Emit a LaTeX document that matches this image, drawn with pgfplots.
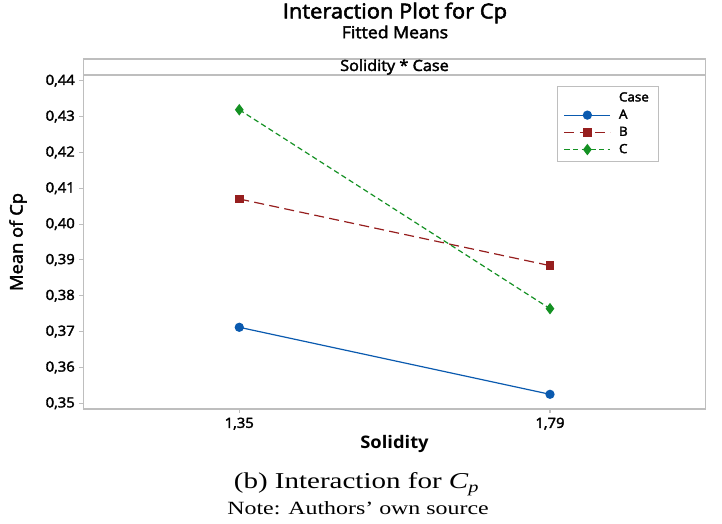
\documentclass[border=0pt]{standalone}
\usepackage{pgfplots}
\pgfplotsset{compat=1.18}
\usepackage{fontspec}
\setmainfont{Open Sans}[FakeStretch=1.06]
\newfontfamily\semib{Open Sans}[FakeStretch=1.06, FakeBold=2.5]
\newfontfamily\capfont{Liberation Serif}[FakeStretch=1.28]
\definecolor{cA}{RGB}{10,90,175}
\definecolor{cB}{RGB}{150,30,30}
\definecolor{cC}{RGB}{20,145,35}
\definecolor{axgray}{RGB}{190,190,190}
\begin{document}
\begin{tikzpicture}
\useasboundingbox (-62.625pt,-86.25pt) rectangle (478.875pt,306.75pt);
\begin{axis}[name=ax, at={(0,0)}, anchor=south west,
  width=466.5pt, height=250.5pt, scale only axis,
  xmin=1.1294, xmax=2.0102, ymin=0.3484, ymax=0.4416,
  xtick={1.35,1.79},
  ytick={0.35,0.36,0.37,0.38,0.39,0.40,0.41,0.42,0.43,0.44},
  axis line style={axgray, line width=1.1pt},
  tick style={axgray, line width=0.8pt},
  tick align=outside, major tick length=3pt,
  xtick pos=bottom, ytick pos=left,
  tick label style={font=\semib\fontsize{10.5}{12}\selectfont, text=black},
  /pgf/number format/.cd, fixed, fixed zerofill, precision=2, use comma, assume math mode=true,
  /pgfplots/.cd,
  xlabel={Solidity}, ylabel={Mean of Cp},
  xlabel style={at={(axis description cs:0.5,-0.105)}, anchor=center, font=\bfseries\fontsize{13}{15}\selectfont},
  ylabel style={at={(axis description cs:-0.1053,0.5)}, anchor=center, font=\semib\fontsize{13}{15}\selectfont},
  legend style={at={(0.761,0.967)}, anchor=north west, draw=axgray, font=\semib\fontsize{9.5}{11}\selectfont,
    inner xsep=5pt, inner ysep=2.5pt, row sep=0.6pt,
    /tikz/every odd column/.append style={column sep=4pt}},
  legend cell align=left,
  legend image code/.code={\draw[mark repeat=2,mark phase=2,#1] plot coordinates {(0pt,0pt) (17.25pt,0pt) (34.5pt,0pt)};},
]
\addlegendimage{empty legend}
\addlegendentry{Case}
\addplot[cA, line width=0.9pt, mark=*, mark size=3pt] coordinates {(1.35,0.3712) (1.79,0.3525)};
\addlegendentry{A}
\addplot[cB, line width=0.9pt, dash pattern=on 7.5pt off 4pt, mark=square*, mark size=2.75pt, mark options={solid}] coordinates {(1.35,0.4070) (1.79,0.3884)};
\addlegendentry{B}
\addplot[cC, line width=0.9pt, dash pattern=on 4pt off 2.5pt, mark=diamond*, mark size=3.6pt, mark options={solid}] coordinates {(1.35,0.4319) (1.79,0.3764)};
\addlegendentry{C}
\end{axis}
\draw[axgray, line width=1.1pt] (ax.north west) rectangle ([yshift=12pt]ax.north east);
\node[font=\semib\fontsize{11.5}{13}\selectfont, anchor=center] at ([yshift=6pt]ax.north) {Solidity * Case};
\node[font=\semib\fontsize{15.5}{17}\selectfont, anchor=center] at (233.6pt,297pt) {Interaction Plot for Cp};
\node[font=\semib\fontsize{12.5}{14}\selectfont, anchor=center] at (233.6pt,282.75pt) {Fitted Means};
\node[font=\capfont\fontsize{17}{20}\selectfont, anchor=base] at (204.75pt,-60pt) {(b) Interaction for {\itshape C}\textsubscript{\itshape p}};
\node[font=\capfont\fontsize{14}{16}\selectfont, anchor=base] at (205.9pt,-79.5pt) {Note: Authors’ own source};
\end{tikzpicture}
\end{document}
